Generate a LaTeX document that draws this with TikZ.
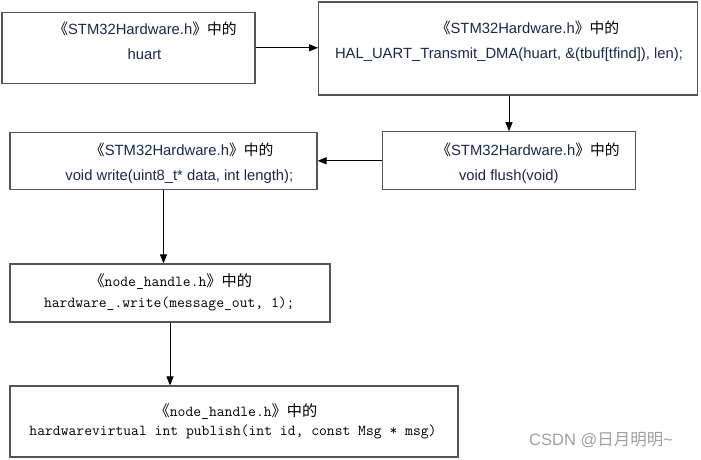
\documentclass[tikz,border=0pt]{standalone}
\usepackage{fontspec}
\setmainfont{Liberation Sans}
\newfontfamily\cjk{Noto Sans CJK SC}
\usetikzlibrary{arrows.meta}
\definecolor{edge}{HTML}{555555}
\definecolor{codeblue}{RGB}{26,40,75}
\definecolor{wm}{HTML}{A0A0A0}
\begin{document}
\begin{tikzpicture}[x=1pt,y=-1pt,
  box/.style={draw=edge, line width=1.2pt, fill=white, inner sep=0pt},
  sanstxt/.style={anchor=base, inner sep=0pt, text=codeblue, font=\fontsize{14.8}{17}\selectfont},
  monotxt/.style={anchor=base, inner sep=0pt, text=black, font=\fontsize{15.2}{18}\ttfamily},
  arr/.style={-{Triangle[length=9pt,width=7pt]}, line width=1pt, draw=black}]
\useasboundingbox (0,0) rectangle (701,459);
% boxes
\node[box, minimum width=253pt, minimum height=71pt] (a) at (128.5,47.8) {};
\node[box, minimum width=379pt, minimum height=93pt] (b) at (508.2,48.5) {};
\node[box, minimum width=307pt, minimum height=57pt] (c) at (163.5,160.8) {};
\node[box, minimum width=253.5pt, minimum height=58pt] (d) at (509,160.8) {};
\node[box, minimum width=320pt, minimum height=58pt] (e) at (170,293) {};
\node[box, minimum width=448pt, minimum height=71pt] (f) at (234,421.5) {};
% texts
\node[sanstxt] (a1) at (145,34.5) {{\cjk\textcolor{black}{《}}STM32Hardware.h{\cjk\textcolor{black}{》中的}}};
\node[sanstxt] (a2) at (144.5,59.3) {huart};
\node[sanstxt] (b1) at (527.5,33.3) {{\cjk\textcolor{black}{《}}STM32Hardware.h{\cjk\textcolor{black}{》中的}}};
\node[sanstxt] (b2) at (509,58.5) {HAL\_UART\_Transmit\_DMA(huart, \&(tbuf[tfind]), len);};
\node[sanstxt] (c1) at (181.7,155) {{\cjk\textcolor{black}{《}}STM32Hardware.h{\cjk\textcolor{black}{》中的}}};
\node[sanstxt] (c2) at (179.3,180.5) {void write(uint8\_t* data, int length);};
\node[sanstxt] (d1) at (528,155) {{\cjk\textcolor{black}{《}}STM32Hardware.h{\cjk\textcolor{black}{》中的}}};
\node[sanstxt] (d2) at (508.8,180.5) {void flush(void)};
\node[monotxt] (e1) at (170.8,286.7) {{\cjk 《}node\_handle.h{\cjk 》中的}};
\node[monotxt] (e2) at (169.3,307.5) {hardware\_.write(message\_out, 1);};
\node[monotxt] (f1) at (236,416) {{\cjk 《}node\_handle.h{\cjk 》中的}};
\node[monotxt] (f2) at (233,435.5) {hardwarevirtual int publish(int id, const Msg * msg)};
% watermark
\node[anchor=base west, inner sep=0pt, text=wm, font=\fontsize{16.5}{18}\selectfont] (wmk) at (529,445.5) {CSDN @{\cjk 日月明明}\textasciitilde};
% connectors
\draw[arr] (a.east) -- (a.east -| b.west);
\draw[arr] (b.south -| d.north) -- (d.north);
\draw[arr] (d.west) -- (d.west -| c.east);
\draw[arr] (c.south) -- (c.south |- e.north);
\draw[arr] (e.south) -- (e.south |- f.north);
\end{tikzpicture}
\end{document}
